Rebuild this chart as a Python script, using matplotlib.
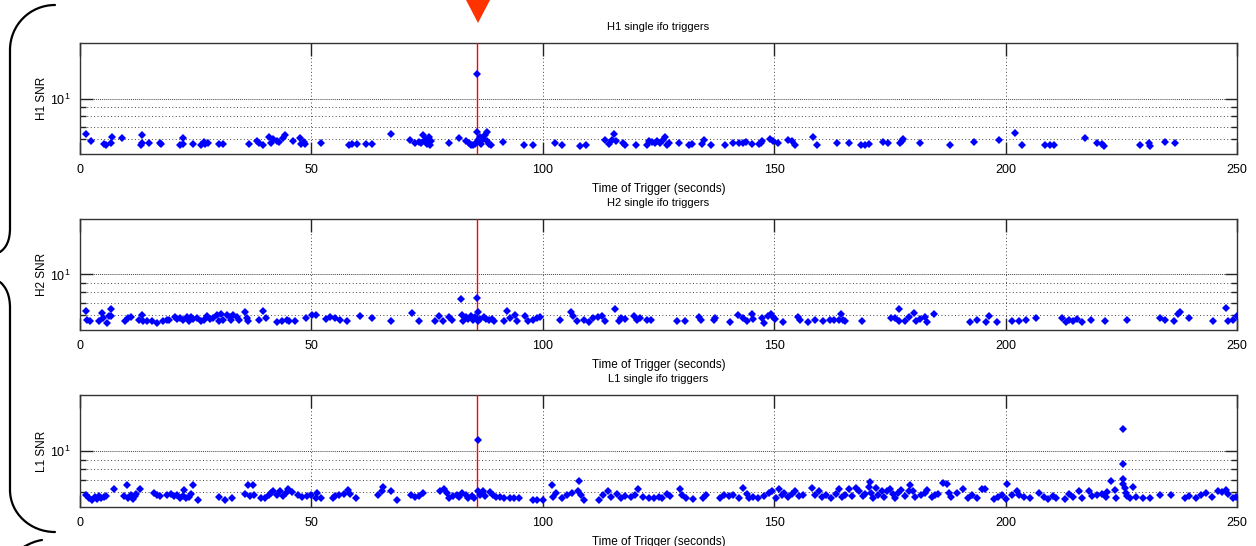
import matplotlib
matplotlib.use('Agg')
import matplotlib.pyplot as plt
from matplotlib.path import Path
from matplotlib.patches import PathPatch, Polygon
from matplotlib.ticker import FixedLocator, LogFormatterSciNotation, NullFormatter

plt.rcParams['font.family'] = ['Liberation Sans', 'DejaVu Sans']
plt.rcParams['mathtext.default'] = 'regular'

# Trigger times (s) and SNR values
h1_time = [1.3, 2.3, 5.2, 5.6, 6.6, 6.9, 9.1, 13.4, 13.2, 13.5, 15.0, 17.3, 17.6, 21.6, 22.2, 22.3,
           24.5, 26.2, 26.8, 27.1, 27.7, 30.0, 30.8, 36.6, 38.3, 38.7, 39.6, 40.9, 41.2, 41.8, 42.5,
           43.1, 43.8, 44.2, 46.1, 47.5, 47.8, 48.3, 48.6, 52.0, 58.2, 58.8, 59.8, 61.7, 63.1, 67.1,
           71.3, 72.3, 73.2, 73.6, 74.2, 74.6, 74.9, 75.4, 75.6, 75.8, 79.7, 81.8, 83.3, 84.0, 84.4,
           85.0, 85.4, 85.7, 85.7, 86.1, 86.4, 86.7, 87.1, 87.6, 87.9, 88.0, 88.4, 88.9, 91.5, 95.9,
           97.8, 102.7, 104.2, 108.0, 109.3, 113.4, 114.2, 115.0, 115.4, 115.8, 117.3, 117.7, 120.2,
           122.6, 123.0, 123.6, 124.2, 124.6, 125.3, 125.9, 126.3, 126.8, 127.2, 129.5, 131.5, 132.2,
           134.3, 134.8, 136.3, 139.4, 141.2, 142.5, 143.3, 143.9, 145.2, 146.7, 147.2, 147.4, 149.1,
           149.8, 150.8, 153.0, 153.9, 154.6, 158.3, 159.2, 163.5, 166.2, 168.7, 169.7, 170.4, 173.5,
           174.6, 177.2, 177.6, 177.9, 181.4, 188.0, 193.2, 198.5, 202.1, 203.6, 208.6, 209.6, 210.5,
           217.1, 219.8, 220.9, 221.3, 229.1, 230.9, 231.1, 234.5, 236.5]
h1_snr = [6.45, 5.89, 5.65, 5.56, 5.71, 6.19, 6.10, 6.35, 5.56, 5.71, 5.71, 5.71, 5.65, 5.56, 6.10, 5.65,
          5.65, 5.56, 5.80, 5.65, 5.76, 5.65, 5.65, 5.65, 5.85, 5.76, 5.56, 6.19, 5.71, 6.05, 5.89,
          5.80, 6.12, 6.35, 5.89, 6.10, 5.65, 5.80, 5.65, 5.71, 5.56, 5.65, 5.65, 5.65, 5.65, 6.45,
          5.93, 5.71, 5.80, 5.76, 6.30, 5.93, 5.65, 6.19, 5.56, 5.85, 5.71, 6.12, 5.85, 5.71, 5.60,
          5.56, 5.65, 13.6, 6.60, 5.93, 6.19, 5.65, 6.05, 6.35, 6.56, 5.85, 5.65, 5.56, 5.80, 5.60,
          5.60, 5.71, 5.60, 5.52, 5.60, 5.93, 5.65, 5.98, 6.40, 5.89, 5.76, 5.60, 5.60,
          5.56, 5.89, 5.80, 5.76, 5.89, 5.71, 5.93, 6.19, 5.60, 5.71, 5.71, 5.56, 5.65,
          5.65, 5.98, 5.56, 5.56, 5.71, 5.71, 5.76, 5.80, 5.65, 5.65, 5.76, 5.85, 6.05,
          5.85, 5.71, 5.93, 5.85, 5.60, 6.19, 5.56, 5.71, 5.71, 5.56, 5.56, 5.65, 5.80,
          5.71, 5.71, 5.89, 6.05, 5.71, 5.60, 5.80, 5.98, 6.49, 5.60, 5.56, 5.60, 5.60,
          6.10, 5.71, 5.65, 5.52, 5.60, 5.71, 5.52, 5.80, 5.71]

h2_time = [1.3, 1.6, 2.2, 4.2, 4.8, 5.0, 5.9, 6.2, 6.6, 6.8, 9.7, 10.4, 11.0, 12.8, 13.4, 13.7, 14.5,
           15.6, 16.6, 18.0, 18.7, 19.3, 20.5, 21.0, 21.6, 22.3, 23.1, 23.5, 23.9, 24.5, 25.2, 26.2,
           26.8, 27.5, 28.1, 28.8, 29.5, 30.0, 30.4, 31.0, 31.7, 32.4, 32.7, 33.1, 33.9, 34.3, 35.6,
           36.0, 36.3, 38.7, 39.5, 40.2, 42.5, 43.7, 44.7, 45.1, 46.5, 48.8, 50.1, 50.9, 53.2, 54.0,
           55.0, 56.2, 57.6, 60.4, 63.0, 67.3, 71.7, 73.2,
           76.6, 77.6, 78.4, 79.8, 80.4, 82.4, 82.5, 82.8, 83.3, 83.8, 84.4, 84.9, 85.3, 85.7, 85.9,
           86.1, 86.4, 87.2, 87.7, 88.3, 89.0, 89.5, 91.6, 92.3, 92.9, 93.9, 94.5, 96.2, 96.8, 97.8,
           98.7, 99.3, 103.7, 106.0, 106.5, 107.3, 108.8, 109.9, 110.9, 111.9, 112.7, 113.5, 115.5,
           116.4, 117.0, 117.8, 119.6, 120.3, 121.0, 122.5, 123.3, 129.1, 130.8, 133.7, 134.1, 136.9,
           137.3, 140.5, 142.2, 143.3, 144.1, 145.1, 145.5, 147.4, 147.7, 148.7, 149.4, 149.7, 150.1,
           152.0, 155.2, 155.6, 157.2, 158.8,
           160.6, 162.1, 162.9, 163.9, 164.4, 164.8, 165.2, 169.0, 175.3, 176.2, 176.9, 177.0, 178.2,
           179.2, 180.2, 180.6, 181.5, 182.5, 183.1, 184.5, 192.3, 193.8, 195.8, 196.5, 198.1, 201.4,
           203.0, 204.3, 206.6, 212.2, 213.1, 213.8, 214.6, 215.4, 216.5, 218.4, 221.4, 226.3, 233.4,
           234.4, 236.4, 237.3, 237.7, 239.6, 244.9, 247.6, 248.1, 249.2, 249.9]
h2_snr = [6.35, 5.65, 5.61, 5.61, 6.20, 5.80, 5.47, 5.94, 6.51, 5.99, 5.61, 5.80, 5.89, 5.65, 6.04, 5.56, 5.56,
          5.61, 5.47, 5.56, 5.65, 5.65, 5.89, 5.75, 5.84, 5.70, 5.89, 5.61, 5.89, 5.75, 5.84, 5.56,
          5.70, 5.99, 5.75, 5.80, 6.04, 5.56, 6.14, 5.70, 6.04, 5.89, 5.70, 6.04, 5.89, 5.70, 6.25,
          5.84, 5.61, 5.70, 6.35, 5.80, 5.51, 5.61, 5.70, 5.56, 5.56, 5.80, 6.04, 6.04, 5.75, 5.89,
          5.80, 5.70, 5.61, 5.94, 5.84, 5.61, 6.20, 5.56,
          5.61, 5.99, 5.61, 5.89, 5.70, 7.38, 6.04, 5.61, 5.89, 5.75, 5.94, 5.65, 5.89, 7.50, 6.25,
          5.61, 5.75, 5.89, 5.75, 5.70, 5.75, 5.61, 5.61, 6.35, 5.80, 6.04, 5.61, 5.94, 5.61, 5.70,
          5.80, 5.89, 5.70, 6.25, 5.99, 5.61, 5.70, 5.51, 5.80, 5.89, 5.94, 5.61, 6.51,
          5.61, 5.80, 5.75, 5.99, 5.70, 5.80, 5.70, 5.65, 5.61, 5.61, 5.89, 5.70, 5.65,
          5.80, 5.51, 6.04, 5.80, 5.61, 6.14, 5.75, 5.80, 5.47, 5.99, 6.14, 5.89, 5.75,
          5.51, 5.89, 5.70, 5.51, 5.65,
          5.56, 5.70, 5.65, 5.65, 6.14, 5.70, 5.61, 5.56, 5.80, 5.84, 6.51, 5.61, 5.61,
          5.89, 6.20, 5.61, 5.75, 5.89, 5.51, 6.14, 5.51, 5.70, 5.51, 5.99, 5.51, 5.56,
          5.61, 5.70, 5.80, 5.84, 5.51, 5.70, 5.61, 5.75, 5.51, 5.65, 5.61, 5.70, 5.80,
          5.70, 5.61, 6.14, 6.25, 5.80, 5.61, 6.62, 5.61, 5.65, 5.94]

l1_time = [1.3, 1.9, 2.6, 3.2, 3.6, 4.2, 4.6, 5.2, 5.6, 7.3, 9.6, 10.1, 10.4, 11.0, 11.4, 11.8, 12.2,
           13.0, 16.0, 16.6, 17.3, 18.7, 19.7, 20.3, 20.9, 21.6, 22.2, 22.5, 22.8, 23.5, 23.9, 24.5,
           25.6, 30.0, 31.4, 32.8, 35.7, 36.2, 36.7, 37.3, 37.7, 39.2, 40.0, 40.8, 41.3, 41.8, 42.6,
           43.2, 43.8, 44.5, 44.9, 45.8, 47.2, 48.0, 49.1, 50.0, 50.9, 51.3, 52.1, 54.7, 55.2, 55.9,
           57.0, 57.9, 58.3, 59.6, 64.4, 65.3, 65.5, 67.3, 68.6, 71.6, 72.3, 73.2,
           74.2, 77.8, 78.7, 79.2, 79.8, 80.7, 81.4, 82.0, 82.5, 83.3, 83.8, 84.6, 85.1, 85.9, 85.9,
           86.4, 87.0, 87.6, 88.6, 89.3, 89.9, 90.8, 91.6, 92.9, 93.8, 94.9, 97.8, 98.8, 100.0, 102.0,
           102.3, 102.9, 104.2, 105.2, 106.3, 107.8, 107.6, 108.3, 109.0, 112.2, 113.1, 114.1, 114.8,
           116.0, 117.0, 117.8, 119.1, 119.9, 120.6, 121.6, 122.9, 124.0, 125.0, 125.8, 126.8, 127.4,
           129.7, 130.1, 131.0, 132.5, 134.7, 135.3, 138.2, 139.2, 140.2, 141.2, 142.3, 143.2, 144.1,
           144.6, 145.5, 146.4, 147.7, 148.8, 149.5, 150.3, 151.0, 151.6, 152.1, 152.9, 153.9, 154.6,
           155.3, 156.3, 158.2, 158.8, 159.6,
           160.3, 161.3, 162.3, 163.4, 164.1, 164.7, 165.4, 166.1, 166.8, 167.7, 168.4, 169.1, 169.7,
           170.4, 170.7, 171.0, 171.4, 171.9, 172.4, 173.2, 173.7, 174.3, 175.0, 175.6, 176.2, 176.8,
           177.5, 178.3, 179.1, 179.3, 179.9, 180.5, 181.8, 182.5, 183.1, 184.1, 184.8, 185.5, 186.4,
           187.3, 187.7, 188.1, 189.4, 190.7, 191.9, 192.7, 193.8, 194.9, 195.5, 197.4, 198.4, 199.2,
           200.0, 200.4, 201.4, 202.4, 203.0, 204.0, 205.3, 207.2, 208.2, 209.2, 210.2, 210.8, 212.9,
           213.8, 214.6, 215.8, 216.5, 218.0, 218.7, 219.7, 220.8, 221.6, 222.0, 222.7, 223.6, 223.9,
           225.3, 225.3, 225.3, 225.4, 225.7, 226.0, 226.3, 226.9, 227.5, 228.2, 229.6, 231.2, 233.4,
           235.8, 238.7, 239.7, 241.1, 242.3, 243.3, 244.6, 245.8, 246.8, 247.6, 248.1, 249.1, 249.8]
l1_snr = [5.77, 5.62, 5.48, 5.67, 5.53, 5.72, 5.58, 5.67, 5.72, 6.27, 5.72, 6.59, 5.62, 5.82, 5.53, 5.72, 5.87,
          6.21, 5.91, 5.82, 5.72, 5.82, 5.87, 5.72, 5.77, 5.62, 5.72, 6.17, 5.58, 5.67, 5.87, 6.59,
          5.48, 5.67, 5.48, 5.58, 5.87, 6.54, 5.72, 6.59, 5.77, 5.58, 5.62, 5.77, 5.96, 6.12, 5.82,
          6.06, 5.72, 5.96, 6.27, 6.02, 5.82, 5.67, 5.72, 5.77, 5.62, 5.91, 5.58, 5.62, 5.72, 5.82,
          5.87, 6.17, 5.87, 5.62, 5.77, 6.12, 6.37, 6.06, 5.48, 5.77, 5.67, 5.72,
          5.96, 6.12, 6.21, 5.96, 5.62, 5.72, 5.82, 5.67, 5.96, 5.77, 5.58, 5.72, 5.62, 11.4, 6.06,
          5.82, 6.12, 5.72, 6.02, 5.82, 5.67, 5.67, 5.62, 5.58, 5.58, 5.58, 5.48, 5.48, 5.48, 6.59,
          5.67, 5.91, 5.62, 5.77, 5.96, 6.87, 6.12, 5.77, 5.48, 5.48, 5.77, 6.12, 5.67,
          5.87, 5.58, 5.72, 5.67, 5.82, 6.21, 5.67, 5.58, 5.58, 5.67, 5.62, 5.87, 5.72,
          6.21, 5.77, 5.62, 5.53, 5.62, 5.77, 5.62, 5.77, 5.72, 5.77, 5.62, 6.32, 5.87,
          5.62, 5.67, 5.58, 5.72, 5.91, 6.12, 5.62, 6.21, 5.77, 5.96, 5.67, 5.87, 6.12,
          5.72, 5.77, 6.32, 5.77, 6.12,
          5.67, 5.77, 5.62, 5.87, 6.21, 5.67, 5.82, 6.27, 5.72, 6.32, 6.06, 5.72, 5.87,
          6.43, 6.81, 5.96, 5.62, 6.32, 5.77, 6.12, 5.67, 6.12, 6.27, 5.87, 5.62, 5.96,
          6.17, 5.72, 6.06, 6.54, 6.12, 5.67, 5.77, 5.96, 6.17, 5.67, 5.77, 5.87, 6.70,
          6.65, 5.91, 5.67, 5.96, 6.21, 5.62, 5.77, 5.62, 6.21, 6.21, 5.53, 5.67, 5.82,
          5.53, 6.65, 5.82, 6.12, 5.77, 5.67, 5.58, 5.96, 5.67, 5.53, 5.72, 5.58, 5.53,
          5.87, 5.67, 6.12, 5.58, 6.12, 5.72, 5.77, 5.87, 5.67, 6.02, 6.87, 6.17, 5.62,
          13.1, 8.54, 7.04, 6.65, 6.32, 5.91, 5.72, 5.58, 6.37, 5.67, 5.62, 5.58, 5.77,
          5.82, 5.62, 5.72, 5.58, 5.77, 5.91, 5.67, 6.06, 6.02, 6.17, 5.87, 5.58, 5.67]

event_time = 85.8
x_ticks = [0, 50, 100, 150, 200, 250]
ifos = ['H1', 'H2', 'L1']
times = [h1_time, h2_time, l1_time]
snrs = [h1_snr, h2_snr, l1_snr]

fig = plt.figure(figsize=(12.56, 5.46), dpi=100)
W, H = 1256, 546
# axes boxes in pixels: (left, top, right, bottom)
boxes = [(80, 43, 1237, 154), (80, 219, 1237, 330), (80, 395, 1237, 507)]

for ifo, t, s, (l, tp, r, b) in zip(ifos, times, snrs, boxes):
    ax = fig.add_axes([l / W, 1 - b / H, (r - l) / W, (b - tp) / H])
    ax.set_yscale('log')
    ax.set_xlim(0, 250)
    ax.set_ylim(5, 20)
    ax.set_xticks(x_ticks)
    ax.yaxis.set_major_locator(FixedLocator([10]))
    ax.yaxis.set_minor_locator(FixedLocator([6, 7, 8, 9]))
    ax.yaxis.set_major_formatter(LogFormatterSciNotation())
    ax.yaxis.set_minor_formatter(NullFormatter())
    ax.grid(which='major', axis='y', color='#444444', lw=0.7, ls=(0, (1, 1)))
    ax.grid(which='minor', axis='y', color='#444444', lw=0.7, ls=(0, (1, 2.5)))
    ax.grid(which='major', axis='x', color='#444444', lw=0.7, ls=(0, (1, 2.5)))
    ax.tick_params(which='major', direction='in', top=True, right=True, length=9, width=1,
                   labelsize=9, pad=7, color='#222222')
    ax.tick_params(which='minor', direction='in', left=True, right=True, length=4, width=1,
                   color='#222222')
    for sp in ax.spines.values():
        sp.set_color('#333333')
        sp.set_linewidth(1.0)
    ax.axvline(event_time, color='red', lw=1.0, zorder=3)
    ax.plot(t, s, 'D', color='blue', ms=3.9, mew=0, zorder=4)
    ax.set_title(ifo + ' single ifo triggers', fontsize=8, pad=9)
    ax.set_xlabel('Time of Trigger (seconds)', fontsize=8.5, labelpad=5)
    ax.set_ylabel(ifo + ' SNR', fontsize=8.5, labelpad=1)

# decorations: braces on the left and marker triangle above the event
ov = fig.add_axes([0, 0, 1, 1], zorder=10)
ov.set_xlim(0, W)
ov.set_ylim(H, 0)
ov.axis('off')
brace_paths = [
    ([(55, 5), (30, 5), (10, 25), (10, 50), (10, 228), (10, 241), (6, 248), (0, 252)],
     [Path.MOVETO, Path.CURVE4, Path.CURVE4, Path.CURVE4, Path.LINETO, Path.CURVE4, Path.CURVE4, Path.CURVE4]),
    ([(0, 282), (6, 287), (10, 295), (10, 308), (10, 490), (10, 513), (30, 532), (55, 532)],
     [Path.MOVETO, Path.CURVE4, Path.CURVE4, Path.CURVE4, Path.LINETO, Path.CURVE4, Path.CURVE4, Path.CURVE4]),
    ([(22, 548), (30, 543), (36, 541), (42, 540)],
     [Path.MOVETO, Path.CURVE4, Path.CURVE4, Path.CURVE4]),
]
for verts, codes in brace_paths:
    ov.add_patch(PathPatch(Path(verts, codes), fill=False, lw=1.6, ec='black', capstyle='round'))
ov.add_patch(Polygon([(466, 0), (490, 0), (478, 23)], closed=True, color='#ff3300', lw=0))

fig.savefig('out.png', dpi=100)
